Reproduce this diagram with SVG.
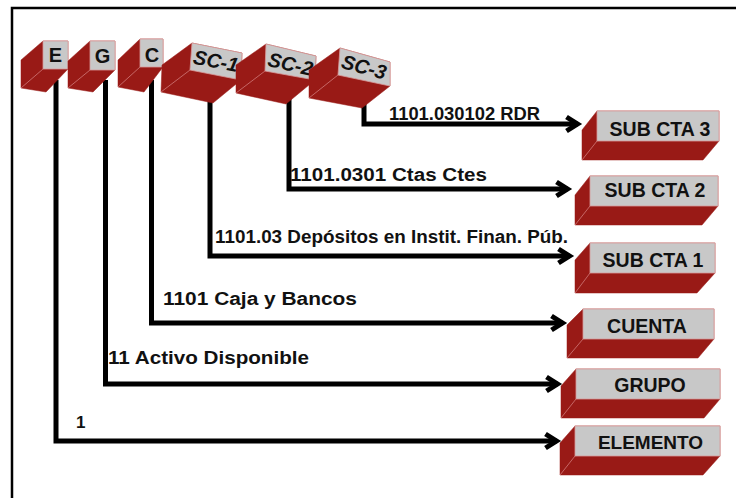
<svg xmlns="http://www.w3.org/2000/svg" width="736" height="498" viewBox="0 0 736 498">
<style>
.frame{fill:#fff;stroke:#000;stroke-width:2.5}
.red{fill:#991a16;stroke:#991a16;stroke-width:0.5}
.face{fill:#c8c8c8;stroke:#d89a9a;stroke-width:0.8}
.edge{stroke:#d07a7a;stroke-width:0.8;fill:none}
.conn{fill:none;stroke:#000;stroke-width:5;stroke-linejoin:miter;marker-end:url(#ah)}
.tl{font-family:"Liberation Sans",Arial,sans-serif;font-weight:bold;font-size:19.5px;fill:#111;text-anchor:middle}
.tk{font-family:"Liberation Sans",Arial,sans-serif;font-weight:bold;font-size:20px;fill:#111;text-anchor:middle}
.ts{font-family:"Liberation Sans",Arial,sans-serif;font-weight:bold;font-style:italic;font-size:20px;fill:#111;text-anchor:middle}
.lb{font-family:"Liberation Sans",Arial,sans-serif;font-weight:bold;font-size:18px;fill:#111}
</style>
<defs>
<marker id="ah" markerUnits="userSpaceOnUse" viewBox="-20 -12 30 24" markerWidth="30" markerHeight="24" refX="0" refY="0" orient="auto" style="overflow:visible">
<path d="M-11,-7 L0,0 L-11,7" fill="none" stroke="#000" stroke-width="5" stroke-linejoin="miter"/>
</marker>
</defs>
<rect x="0" y="0" width="736" height="498" fill="#fff"/>
<rect class="frame" x="12" y="8" width="740" height="500"/>

<g id="connectors">
<path class="conn" d="M56,80 V441 H556.5"/>
<path class="conn" d="M105.5,80 V384 H557.5"/>
<path class="conn" d="M151.5,80 V323 H562.5"/>
<path class="conn" d="M210,95 V256 H569.5"/>
<path class="conn" d="M289,98 V189 H567.5"/>
<path class="conn" d="M364,100 V124 H577.5"/>
</g>

<g id="connector-labels">
<text class="lb" x="389" y="120" textLength="151" lengthAdjust="spacingAndGlyphs">1101.030102 RDR</text>
<text class="lb" x="290" y="181" textLength="197" lengthAdjust="spacingAndGlyphs">1101.0301 Ctas Ctes</text>
<text class="lb" x="215" y="243" textLength="353" lengthAdjust="spacingAndGlyphs">1101.03 Depósitos en Instit. Finan. Púb.</text>
<text class="lb" x="163" y="305" textLength="194" lengthAdjust="spacingAndGlyphs">1101 Caja y Bancos</text>
<text class="lb" x="108" y="364" textLength="201" lengthAdjust="spacingAndGlyphs">11 Activo Disponible</text>
<text class="lb" x="76" y="428" style="font-size:17px">1</text>
</g>

<g id="node-E">
<polygon class="red" points="43,41 21,60 21,88 46,92 68,69 68,41"/>
<line class="edge" x1="43" y1="69" x2="21" y2="88"/>
<polygon class="face" points="43,41 68,41 68,69 43,69"/>
<text class="tk" x="55.5" y="62">E</text>
</g>
<g id="node-G">
<polygon class="red" points="90,41 68,61 68,88 93,92 115,70 115,41"/>
<line class="edge" x1="90" y1="70" x2="68" y2="88"/>
<polygon class="face" points="90,41 115,41 115,70 90,70"/>
<text class="tk" x="102.5" y="63">G</text>
</g>
<g id="node-C">
<polygon class="red" points="140,39 118,60 118,87 144,92 163,67 163,39"/>
<line class="edge" x1="140" y1="67" x2="118" y2="87"/>
<polygon class="face" points="140,39 163,39 163,67 140,67"/>
<text class="tk" x="152" y="62">C</text>
</g>
<g id="node-SC1">
<polygon class="red" points="192,43 162,65 161,92 213,103 241,80 242,53"/>
<line class="edge" x1="190" y1="70" x2="161" y2="92"/>
<polygon class="face" points="192,43 242,53 241,80 190,70"/>
<text class="ts" x="216" y="68" transform="rotate(11 216 61)">SC-1</text>
</g>
<g id="node-SC2">
<polygon class="red" points="266,44 236,65 236,93 286,104 315,80 316,56"/>
<line class="edge" x1="265" y1="71" x2="236" y2="93"/>
<polygon class="face" points="266,44 316,56 315,80 265,71"/>
<text class="ts" x="290.5" y="71" transform="rotate(13 290.5 64)">SC-2</text>
</g>
<g id="node-SC3">
<polygon class="red" points="340,48 309,70 309,98 362,108 390,86 390,62"/>
<line class="edge" x1="338" y1="75" x2="309" y2="98"/>
<polygon class="face" points="340,48 390,62 390,86 338,75"/>
<text class="ts" x="364" y="74" transform="rotate(15 364 67)">SC-3</text>
</g>

<g id="node-SUBCTA3">
<polygon class="red" points="597,111 582,130 582,160 703,160 719,141 719,111"/>
<line class="edge" x1="597" y1="141" x2="582" y2="160"/>
<rect class="face" x="597" y="111" width="122" height="30"/>
<text class="tl" x="660" y="135.5">SUB CTA 3</text>
</g>
<g id="node-SUBCTA2">
<polygon class="red" points="590,176 575,195 575,225 702,225 718,206 718,176"/>
<line class="edge" x1="590" y1="206" x2="575" y2="225"/>
<rect class="face" x="590" y="176" width="128" height="30"/>
<text class="tl" x="655" y="196.5">SUB CTA 2</text>
</g>
<g id="node-SUBCTA1">
<polygon class="red" points="590,243 575,260 575,293 697,293 715,273 715,243"/>
<line class="edge" x1="590" y1="273" x2="575" y2="293"/>
<rect class="face" x="590" y="243" width="125" height="30"/>
<text class="tl" x="653" y="266.5">SUB CTA 1</text>
</g>
<g id="node-CUENTA">
<polygon class="red" points="583,309 567,325 567,358 698,358 714,339 714,309"/>
<line class="edge" x1="583" y1="339" x2="567" y2="358"/>
<rect class="face" x="583" y="309" width="131" height="30"/>
<text class="tl" x="647" y="333">CUENTA</text>
</g>
<g id="node-GRUPO">
<polygon class="red" points="576,369 561,386 561,418 704,418 720,399 720,369"/>
<line class="edge" x1="576" y1="399" x2="561" y2="418"/>
<rect class="face" x="576" y="369" width="144" height="30"/>
<text class="tl" x="650" y="392">GRUPO</text>
</g>
<g id="node-ELEMENTO">
<polygon class="red" points="575,426 560,443 560,475 703,475 720,456 720,426"/>
<line class="edge" x1="575" y1="456" x2="560" y2="475"/>
<rect class="face" x="575" y="426" width="145" height="30"/>
<text class="tl" x="650.5" y="449" style="font-size:19px">ELEMENTO</text>
</g>
</svg>
